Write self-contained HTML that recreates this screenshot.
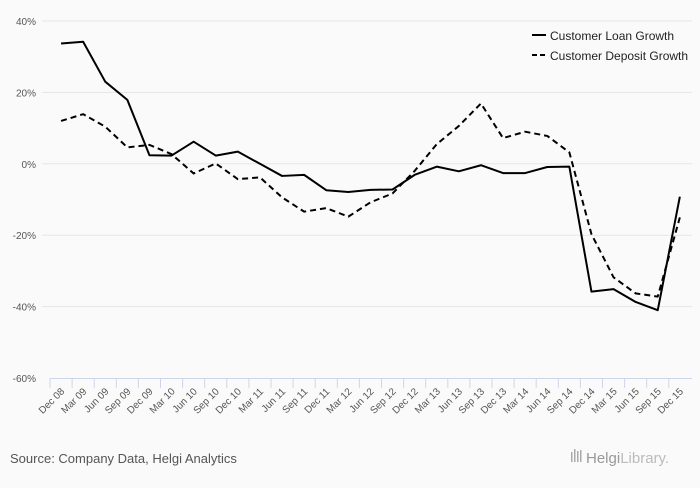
<!DOCTYPE html>
<html><head><meta charset="utf-8"><style>
body{margin:0;background:#fafafa;font-family:"Liberation Sans",sans-serif;}
svg text{font-family:"Liberation Sans",sans-serif;}
</style></head><body>
<svg id="chart" width="700" height="483">
<rect width="700" height="483" fill="#fafafa"/>
<g id="grid"></g><g id="yticks"></g><g id="xaxis"></g><g id="series"></g>
<g>
 <g>
  <line x1="532" y1="35" x2="546" y2="35" stroke="#000" stroke-width="2"/>
  <text x="550" y="40" font-size="12" fill="#222">Customer Loan Growth</text></g>
 <g>
  <line x1="532" y1="55" x2="546" y2="55" stroke="#000" stroke-width="2" stroke-dasharray="5,3"/>
  <text x="550" y="60" font-size="12" fill="#222">Customer Deposit Growth</text></g>
</g>
<text x="10" y="463" font-size="13" fill="#555">Source: Company Data, Helgi Analytics</text>
<g>
 <rect x="571" y="452" width="1.5" height="10" fill="#aaa"/><rect x="574" y="449" width="1.5" height="13" fill="#aaa"/><rect x="577" y="451" width="1.5" height="11" fill="#aaa"/><rect x="580" y="450" width="1.5" height="12" fill="#aaa"/>
 <text x="586" y="463" font-size="15" fill="#999" font-family="Liberation Serif">Helgi<tspan fill="#bbb">Library.</tspan></text>
</g>
</svg>
<script>
const categories=["Dec 08","Mar 09","Jun 09","Sep 09","Dec 09","Mar 10","Jun 10","Sep 10","Dec 10","Mar 11","Jun 11","Sep 11","Dec 11","Mar 12","Jun 12","Sep 12","Dec 12","Mar 13","Jun 13","Sep 13","Dec 13","Mar 14","Jun 14","Sep 14","Dec 14","Mar 15","Jun 15","Sep 15","Dec 15"];
const loanGrowth=[33.7,34.2,23.0,17.9,2.4,2.3,6.2,2.3,3.4,0,-3.4,-3.1,-7.4,-7.9,-7.3,-7.2,-3.1,-0.8,-2.1,-0.4,-2.6,-2.6,-0.9,-0.8,-35.8,-35.1,-38.7,-41.0,-9.2];
const depositGrowth=[12.0,13.9,10.4,4.6,5.3,2.7,-2.7,0.1,-4.3,-3.8,-9.4,-13.4,-12.4,-14.8,-10.8,-8.3,-2.0,5.5,10.6,16.9,7.2,9.0,7.8,3.2,-19.7,-31.8,-36.3,-37.2,-15.0];
const yTicks=[40,20,0,-20,-40,-60];
const NS="http://www.w3.org/2000/svg";
const x0=50,bw=22.1,yTop=21,yBot=378,vMax=40,vMin=-60;
const xs=i=>x0+bw*(i+0.5);
const ys=v=>yTop+(vMax-v)/(vMax-vMin)*(yBot-yTop);
function mk(tag,attrs,parent){const e=document.createElementNS(NS,tag);for(const k in attrs)e.setAttribute(k,attrs[k]);parent.appendChild(e);return e;}
const grid=document.getElementById('grid'),yt=document.getElementById('yticks'),xa=document.getElementById('xaxis'),se=document.getElementById('series');
yTicks.forEach(v=>{
 if(v!==vMin){const l=mk('line',{x1:x0-8,x2:692,y1:ys(v),y2:ys(v),stroke:'#e6e6e6','stroke-width':1},grid);
 
 }
 const t=mk('text',{x:36,y:ys(v)+4,'font-size':10,fill:'#555','text-anchor':'end'},yt);
 t.textContent=v+'%';
 
 
});
const ax=mk('line',{x1:x0,x2:692,y1:yBot+0.5,y2:yBot+0.5,stroke:'#ccd6eb','stroke-width':1},xa);


categories.forEach((c,i)=>{
 const tx=x0+bw*i;
 const tk=mk('line',{x1:tx,x2:tx,y1:yBot,y2:yBot+10,stroke:'#ccd6eb'},xa);
 
 
 const t=mk('text',{x:xs(i)+4,y:yBot+14,'font-size':10,fill:'#555','text-anchor':'end',transform:`rotate(-45 ${xs(i)+4} ${yBot+14})`},xa);
 t.textContent=c;
 
 
});
function line(data,dash,name){
 const p=mk('path',{d:data.map((v,i)=>(i?'L':'M')+xs(i)+' '+ys(v)).join(' '),fill:'none',stroke:'#000','stroke-width':2,'stroke-linejoin':'round'},se);
 if(dash)p.setAttribute('stroke-dasharray','6,4');
 
 
}
line(depositGrowth,true,'deposit-growth-line');
line(loanGrowth,false,'loan-growth-line');
</script>
</body></html>
